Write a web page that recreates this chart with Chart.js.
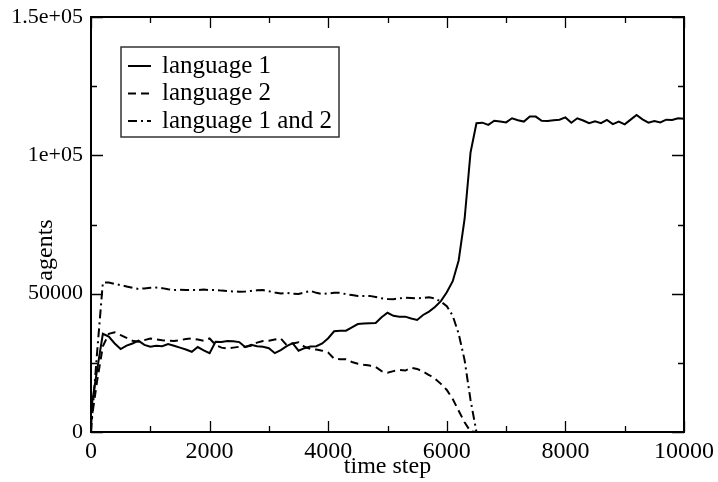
<!DOCTYPE html>
<html>
<head>
<meta charset="utf-8">
<script src="https://cdn.jsdelivr.net/npm/chart.js@4.4.1/dist/chart.umd.min.js"></script>
<style>
  html, body { margin: 0; padding: 0; background: #fff; }
  #wrap { width: 718px; height: 482px; }
</style>
</head>
<body>
<div id="wrap"><canvas id="agents-chart" width="718" height="482"></canvas></div>
<script>
// time steps, one sample every 100 steps
const steps = [];
for (let t = 0; t <= 10000; t += 100) steps.push(t);

const seriesNames = ["language 1", "language 2", "language 1 and 2"];

const language1 = [
    8000, 22000, 35500, 34500, 32000, 30000, 31200, 32000, 33000, 31500,
    30800, 31200, 31000, 31800, 31200, 30500, 29800, 29000, 30700, 29500,
    28500, 32600, 32500, 32900, 32800, 32500, 30700, 31500, 31000, 30800,
    30300, 28500, 29600, 31000, 32100, 29400, 30300, 30900, 31000, 32000,
    33900, 36400, 36600, 36600, 37800, 39000, 39200, 39300, 39400, 41500,
    43100, 42000, 41700, 41700, 41000, 40500, 42300, 43500, 45200, 47300,
    50500, 54500, 62000, 77000, 101000, 111600, 111800, 111000, 112500, 112200,
    111900, 113400, 112700, 112200, 114000, 114000, 112500, 112400, 112700, 112900,
    113700, 111800, 113400, 112600, 111600, 112300, 111600, 112800, 111300, 112200,
    111200, 112900, 114600, 113000, 111800, 112400, 111900, 112900, 112800, 113400,
    113200
];

const language2 = [
    3000, 18000, 31000, 35500, 36000, 35000, 34000, 33000, 32600, 33200,
    33800, 33500, 33200, 33000, 32900, 33200, 33600, 33800, 33400, 33000,
    33800, 31500, 30500, 30200, 30500, 30800, 30800, 31200, 32300, 32900,
    33000, 33400, 33800, 31400, 32000, 32400, 30800, 30000, 29800, 29400,
    28700, 26500, 26300, 26300, 25300, 24700, 24300, 24000, 23500, 22000,
    21400, 22000, 22400, 22200, 23200, 22800, 21800, 20600, 19300, 17400,
    15200, 11900, 7700, 3500, 200, 0, 0, 0, 0, 0,
    0, 0, 0, 0, 0, 0, 0, 0, 0, 0,
    0, 0, 0, 0, 0, 0, 0, 0, 0, 0,
    0, 0, 0, 0, 0, 0, 0, 0, 0, 0,
    0
];

const language12 = [
    0, 28000, 54000, 54000, 53500, 53100, 52600, 52100, 51700, 51900,
    52100, 52200, 52000, 51600, 51300, 51400, 51300, 51300, 51300, 51500,
    51300, 51300, 51100, 51000, 50800, 50700, 50800, 51000, 51200, 51300,
    50900, 50400, 50100, 50300, 50000, 49900, 50400, 51000, 50300, 49900,
    50100, 50300, 50300, 49800, 49500, 49200, 49200, 49200, 48800, 48300,
    48100, 48000, 48300, 48500, 48400, 48300, 48500, 48700, 48300, 47100,
    45500, 42000, 35500, 26000, 11600, 0, 0, 0, 0, 0,
    0, 0, 0, 0, 0, 0, 0, 0, 0, 0,
    0, 0, 0, 0, 0, 0, 0, 0, 0, 0,
    0, 0, 0, 0, 0, 0, 0, 0, 0, 0,
    0
];

const xTicks = [0, 2000, 4000, 6000, 8000, 10000];
const yTickValues = [0, 50000, 100000, 150000];
const yTickLabels = ["0", "50000", "1e+05", "1.5e+05"];

const serif = "'Liberation Serif', 'Times New Roman', serif";
const dashes = [[], [8, 5], [9, 4, 2, 4]];

function points(values) {
    return values.map((v, i) => ({ x: steps[i], y: v }));
}

// frame, inward tick marks, axis titles and legend box
const decorations = {
    id: 'decorations',
    afterDatasetsDraw(chart) {
        const { ctx, chartArea: a, scales } = chart;
        const xs = scales.x, ys = scales.y;
        ctx.save();
        ctx.strokeStyle = '#000';

        ctx.lineWidth = 1.3;
        ctx.beginPath();
        for (let t = 0; t <= 10000; t += 1000) {
            const px = Math.round(xs.getPixelForValue(t)) + 0.5;
            const len = t % 2000 === 0 ? 11 : 6;
            ctx.moveTo(px, a.bottom); ctx.lineTo(px, a.bottom - len);
            ctx.moveTo(px, a.top); ctx.lineTo(px, a.top + len);
        }
        for (let v = 0; v <= 150000; v += 25000) {
            const py = Math.round(ys.getPixelForValue(v)) + 0.5;
            const len = v % 50000 === 0 ? 12 : 6;
            ctx.moveTo(a.left, py); ctx.lineTo(a.left + len, py);
            ctx.moveTo(a.right, py); ctx.lineTo(a.right - len, py);
        }
        ctx.stroke();

        ctx.lineWidth = 2;
        ctx.strokeRect(a.left, a.top, a.right - a.left, a.bottom - a.top);

        // axis titles
        ctx.fillStyle = '#000';
        ctx.font = "24px " + serif;
        ctx.textAlign = 'center';
        ctx.textBaseline = 'alphabetic';
        ctx.fillText('time step', (a.left + a.right) / 2, 473);
        ctx.save();
        ctx.translate(52, 250);
        ctx.rotate(-Math.PI / 2);
        ctx.fillText('agents', 0, 0);
        ctx.restore();

        // legend
        const box = { x: 121, y: 47, w: 218, h: 90 };
        ctx.lineWidth = 1.5;
        ctx.strokeStyle = '#333';
        ctx.fillStyle = '#fff';
        ctx.fillRect(box.x, box.y, box.w, box.h);
        ctx.strokeRect(box.x, box.y, box.w, box.h);
        ctx.font = "25px " + serif;
        ctx.textAlign = 'left';
        ctx.textBaseline = 'middle';
        chart.data.datasets.forEach((ds, i) => {
            const cy = 66 + i * 27.5;
            ctx.strokeStyle = '#000';
            ctx.lineWidth = 2;
            ctx.setLineDash(ds.borderDash || []);
            ctx.beginPath();
            ctx.moveTo(128, cy);
            ctx.lineTo(151, cy);
            ctx.stroke();
            ctx.setLineDash([]);
            ctx.fillStyle = '#000';
            ctx.fillText(ds.label, 162, cy);
        });
        ctx.restore();
    }
};

const ctx = document.getElementById('agents-chart').getContext('2d');
const agentsChart = new Chart(ctx, {
    type: 'line',
    data: {
        datasets: [language1, language2, language12].map((vals, i) => ({
            label: seriesNames[i],
            data: points(vals),
            borderColor: '#000',
            borderWidth: 2,
            borderDash: dashes[i],
            pointRadius: 0,
            tension: 0,
            fill: false,
        }))
    },
    options: {
        responsive: false,
        animation: false,
        devicePixelRatio: 1,
        layout: { padding: { top: 17, right: 34, left: 0, bottom: 0 } },
        plugins: {
            legend: { display: false },
            tooltip: { enabled: false },
        },
        scales: {
            x: {
                type: 'linear',
                min: 0,
                max: 10000,
                grid: { display: false },
                border: { display: false },
                afterBuildTicks: (scale) => { scale.ticks = xTicks.map(v => ({ value: v })); },
                ticks: {
                    color: '#000',
                    font: { family: serif, size: 24, lineHeight: 1 },
                    padding: 0,
                    maxRotation: 0,
                    callback: (v) => String(v),
                },
                afterFit: (scale) => { scale.height = 50; },
            },
            y: {
                type: 'linear',
                min: 0,
                max: 150000,
                grid: { display: false },
                border: { display: false },
                afterBuildTicks: (scale) => { scale.ticks = yTickValues.map(v => ({ value: v })); },
                ticks: {
                    color: '#000',
                    font: { family: serif, size: 22 },
                    padding: 0,
                    callback: (v) => yTickLabels[yTickValues.indexOf(v)],
                },
                afterFit: (scale) => { scale.width = 91; },
            }
        }
    },
    plugins: [decorations]
});
</script>
</body>
</html>
